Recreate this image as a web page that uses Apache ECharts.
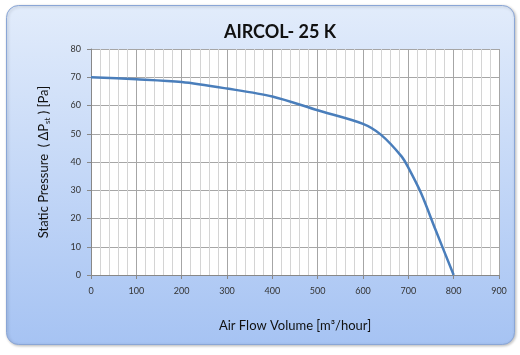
<!DOCTYPE html>
<html>
<head>
<meta charset="utf-8">
<script src="https://cdn.jsdelivr.net/npm/echarts@6/dist/echarts.min.js"></script>
<style>
  html, body { margin: 0; padding: 0; background: #fff; }
  #chart { width: 520px; height: 355px; }
</style>
</head>
<body>
<div id="chart"></div>
<script>
  // air flow (m3/hour) vs static pressure (Pa)
  const flow = [0, 100, 200, 300, 400, 500, 600, 640, 685, 700, 728, 760, 800];
  const pressure = [70, 69.3, 68.3, 66, 63.2, 58.3, 53.5, 49.6, 42, 38, 29, 16, 0];

  const myChart = echarts.init(document.getElementById("chart"), null, { renderer: "canvas" });

  const font = "Lato, 'Open Sans', sans-serif";

  const option = {
    animation: false,
    graphic: [
      {
        type: "rect",
        z: -10,
        shape: { x: 6.5, y: 5.5, width: 508, height: 339, r: 12 },
        style: {
          fill: new echarts.graphic.LinearGradient(0, 0, 0, 1, [
            { offset: 0, color: "#e2ecfb" },
            { offset: 1, color: "#a6c3f3" },
          ]),
          stroke: "#8aa6d6",
          lineWidth: 1,
          shadowColor: "rgba(0,0,0,0.25)",
          shadowBlur: 3,
          shadowOffsetX: 1,
          shadowOffsetY: 1,
        },
      },
    ],
    title: {
      text: "AIRCOL- 25 K",
      left: 275,
      top: 18,
      textAlign: "center",
      textStyle: { fontFamily: font, fontSize: 18, fontWeight: "bold", color: "#111" },
    },
    grid: { left: 91, right: 21, top: 49, bottom: 80, backgroundColor: "#fff", show: true, borderWidth: 0 },
    xAxis: {
      type: "value",
      min: 0,
      max: 900,
      interval: 100,
      name: "Air Flow Volume [m³/hour]",
      nameLocation: "middle",
      nameGap: 44,
      nameTextStyle: { fontFamily: font, fontSize: 13, color: "#111" },
      axisLine: { lineStyle: { color: "#888" } },
      axisTick: { show: true, length: 4, lineStyle: { color: "#888" } },
      axisLabel: { fontFamily: font, fontSize: 9, color: "#333", margin: 12 },
      splitLine: { lineStyle: { color: "#a6a6a6", width: 1 } },
      minorTick: { show: false, splitNumber: 5 },
      minorSplitLine: { show: true, lineStyle: { color: "#d4d4d4", width: 1 } },
    },
    yAxis: {
      type: "value",
      min: 0,
      max: 80,
      interval: 10,
      name: "{a|Static Pressure  ( ΔP}{s|st}{a| ) [Pa]}",
      nameLocation: "middle",
      nameGap: 40,
      nameTextStyle: {
        rich: {
          a: { fontFamily: font, fontSize: 13, color: "#111" },
          s: { fontFamily: font, fontSize: 8, color: "#111", verticalAlign: "bottom", padding: [6, 0, 0, 0] },
        },
      },
      axisLine: { show: true, lineStyle: { color: "#888" } },
      axisTick: { show: true, length: 4, inside: false, lineStyle: { color: "#888" } },
      axisLabel: { fontFamily: font, fontSize: 9, color: "#333", margin: 10 },
      splitLine: { lineStyle: { color: "#a6a6a6", width: 1 } },
    },
    series: [
      {
        type: "line",
        data: flow.map((f, i) => [f, pressure[i]]),
        smooth: 0.3,
        showSymbol: false,
        lineStyle: { color: "#4a7ebb", width: 2.5 },
        silent: true,
      },
    ],
  };

  option && myChart.setOption(option);
</script>
</body>
</html>
